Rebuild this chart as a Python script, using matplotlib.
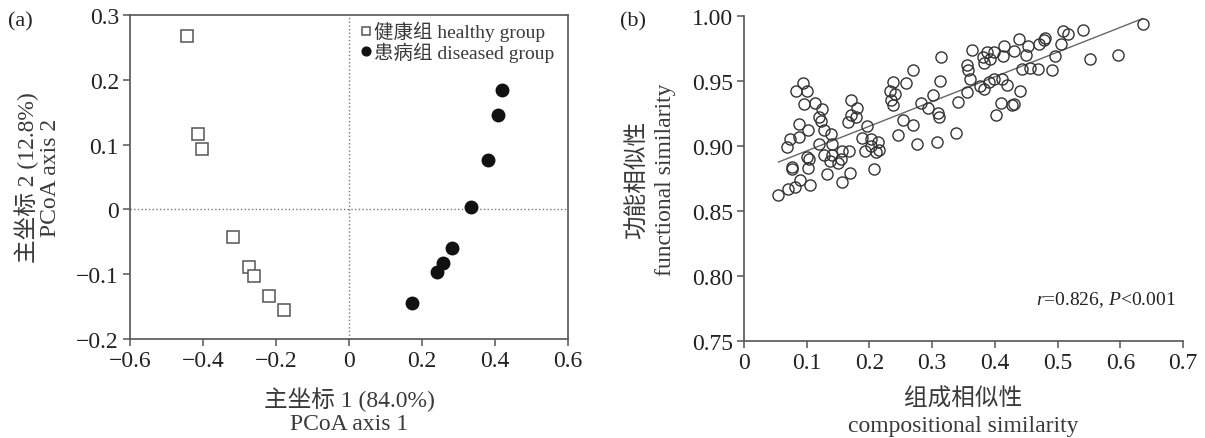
import numpy as np
import matplotlib
matplotlib.use("Agg")
import matplotlib.pyplot as plt
from matplotlib.ticker import FuncFormatter

plt.rcParams['font.family'] = ['Liberation Serif', 'Noto Sans CJK SC']
plt.rcParams['axes.unicode_minus'] = True
plt.rcParams['mathtext.fontset'] = 'custom'
plt.rcParams['mathtext.rm'] = 'Liberation Serif'
plt.rcParams['mathtext.it'] = 'Liberation Serif:italic'

# (a) PCoA scores
healthy_x = [-0.444, -0.413, -0.403, -0.319, -0.275, -0.259, -0.219, -0.178]
healthy_y = [0.267, 0.117, 0.093, -0.043, -0.089, -0.103, -0.133, -0.155]
diseased_x = [0.172, 0.240, 0.258, 0.283, 0.335, 0.380, 0.409, 0.420]
diseased_y = [-0.144, -0.096, -0.082, -0.059, 0.003, 0.077, 0.145, 0.185]

# (b) compositional vs functional similarity
comp_sim = [0.055, 0.070, 0.081, 0.089, 0.106, 0.076, 0.077, 0.102, 0.133, 0.157,
            0.169, 0.208, 0.100, 0.103, 0.128, 0.137, 0.141, 0.150, 0.156, 0.168,
            0.068, 0.074, 0.088, 0.102, 0.088, 0.119, 0.128, 0.138, 0.141, 0.119,
            0.123, 0.124, 0.113, 0.095, 0.083, 0.094, 0.100, 0.171, 0.180, 0.170,
            0.179, 0.166, 0.196, 0.188, 0.202, 0.202, 0.214, 0.215, 0.193, 0.211,
            0.238, 0.233, 0.241, 0.235, 0.238, 0.258, 0.270, 0.253, 0.269, 0.246,
            0.276, 0.283, 0.293, 0.302, 0.313, 0.314, 0.310, 0.311, 0.307, 0.338,
            0.341, 0.356, 0.360, 0.357, 0.356, 0.363, 0.377, 0.381, 0.383, 0.387,
            0.391, 0.382, 0.393, 0.399, 0.413, 0.415, 0.430, 0.439, 0.449, 0.453,
            0.470, 0.480, 0.479, 0.509, 0.517, 0.540, 0.505, 0.496, 0.491, 0.469,
            0.456, 0.443, 0.398, 0.411, 0.419, 0.440, 0.409, 0.427, 0.431, 0.402,
            0.552, 0.597, 0.636, 0.154]
func_sim = [0.862, 0.867, 0.868, 0.874, 0.870, 0.884, 0.882, 0.883, 0.878, 0.872,
            0.879, 0.882, 0.891, 0.890, 0.893, 0.888, 0.893, 0.887, 0.896, 0.896,
            0.899, 0.905, 0.907, 0.912, 0.917, 0.901, 0.912, 0.909, 0.901, 0.922,
            0.919, 0.928, 0.933, 0.932, 0.942, 0.948, 0.942, 0.935, 0.929, 0.924,
            0.922, 0.918, 0.915, 0.906, 0.905, 0.900, 0.903, 0.897, 0.896, 0.895,
            0.949, 0.942, 0.940, 0.935, 0.931, 0.948, 0.958, 0.920, 0.916, 0.908,
            0.901, 0.933, 0.929, 0.939, 0.950, 0.968, 0.925, 0.922, 0.903, 0.910,
            0.934, 0.941, 0.951, 0.958, 0.962, 0.974, 0.946, 0.968, 0.964, 0.972,
            0.949, 0.944, 0.967, 0.972, 0.969, 0.977, 0.973, 0.982, 0.970, 0.977,
            0.978, 0.983, 0.981, 0.988, 0.986, 0.989, 0.978, 0.969, 0.958, 0.959,
            0.960, 0.959, 0.951, 0.951, 0.947, 0.942, 0.933, 0.931, 0.932, 0.924,
            0.967, 0.970, 0.994, 0.890]
fit_slope = 0.19
fit_intercept = 0.877

tick_col = '#222222'
lab_col = '#3a3a3a'
spine_col = '#555555'

fig = plt.figure(figsize=(12.05, 4.39), dpi=100)
W, H = 1205.0, 439.0


def label(x, y, s, rot=0):
    # x, y in pixels from the top-left corner
    fig.text(x / W, 1 - y / H, s, rotation=rot, ha='center', va='center', fontsize=17, color=lab_col)


# ---------------- panel (a)
ax1 = fig.add_axes([130 / W, 1 - 340 / H, 438 / W, 324 / H])
ax1.axvline(0, color='#777777', ls=':', lw=1.0, zorder=1)
ax1.axhline(0, color='#777777', ls=':', lw=1.0, zorder=1)
ax1.plot(healthy_x, healthy_y, ls='none', marker='s', ms=8, mfc='white', mec='#555555', mew=1.1,
         label='健康组 healthy group', zorder=3)
ax1.plot(diseased_x, diseased_y, ls='none', marker='o', ms=9, mfc='#111111', mec='#111111',
         label='患病组 diseased group', zorder=3)
ax1.set_xlim(-0.6, 0.6)
ax1.set_ylim(-0.2, 0.3)
ax1.set_xticks(np.arange(-0.6, 0.61, 0.2))
ax1.set_yticks(np.arange(-0.2, 0.31, 0.1))


def fmt1(v, pos):
    if abs(v) < 1e-9:
        return '0'
    return ('%.1f' % v).replace('-', '\u2212')


ax1.xaxis.set_major_formatter(FuncFormatter(fmt1))
ax1.yaxis.set_major_formatter(FuncFormatter(fmt1))
for s in ax1.spines.values():
    s.set_color(spine_col)
    s.set_linewidth(1.2)
leg = ax1.legend(loc='upper left', bbox_to_anchor=(0.51, 1.005), frameon=False, fontsize=14,
                 handlelength=0.5, handletextpad=0.15, labelspacing=0.02, borderaxespad=0.0,
                 markerscale=0.7)
for t in leg.get_texts():
    t.set_color(lab_col)

label(27, 178, '主坐标 2 (12.8%)', 90)
label(51, 178, 'PCoA axis 2', 90)
label(349, 400, '主坐标 1 (84.0%)')
label(349, 425, 'PCoA axis 1')
fig.text(8 / W, 1 - 22 / H, '(a)', ha='left', va='center', fontsize=16, color=tick_col)

# ---------------- panel (b)
ax2 = fig.add_axes([744 / W, 1 - 341.7 / H, 439 / W, 325 / H])
ax2.plot(comp_sim, func_sim, ls='none', marker='o', ms=8, mfc='none', mec='#333333', mew=1.0, zorder=3)
fx = np.array([min(comp_sim), max(comp_sim)])
ax2.plot(fx, fit_intercept + fit_slope * fx, color='#666666', lw=1.0, zorder=2)
ax2.set_xlim(0, 0.7)
ax2.set_ylim(0.75, 1.0)
ax2.set_xticks(np.arange(0, 0.71, 0.1))
ax2.set_yticks(np.arange(0.75, 1.001, 0.05))
ax2.xaxis.set_major_formatter(FuncFormatter(lambda v, p: '0' if abs(v) < 1e-9 else '%.1f' % v))
ax2.yaxis.set_major_formatter(FuncFormatter(lambda v, p: '%.2f' % v))
ax2.spines['top'].set_visible(False)
ax2.spines['right'].set_visible(False)
for s in ['left', 'bottom']:
    ax2.spines[s].set_color(spine_col)
    ax2.spines[s].set_linewidth(1.2)
ax2.text(0.985, 0.128, r'$\mathit{r}$=0.826, $\mathit{P}$<0.001', transform=ax2.transAxes,
         ha='right', va='center', fontsize=14, color=tick_col)

label(638, 180, '功能相似性', 90)
label(665, 180, 'functional similarity', 90)
label(963, 400, '组成相似性')
label(963, 427, 'compositional similarity')
fig.text(620 / W, 1 - 22 / H, '(b)', ha='left', va='center', fontsize=16, color=tick_col)

for ax in (ax1, ax2):
    ax.tick_params(direction='out', length=5, width=1.1, color=spine_col, labelsize=17,
                   labelcolor=tick_col, pad=3)

fig.savefig('out.png', dpi=100)
